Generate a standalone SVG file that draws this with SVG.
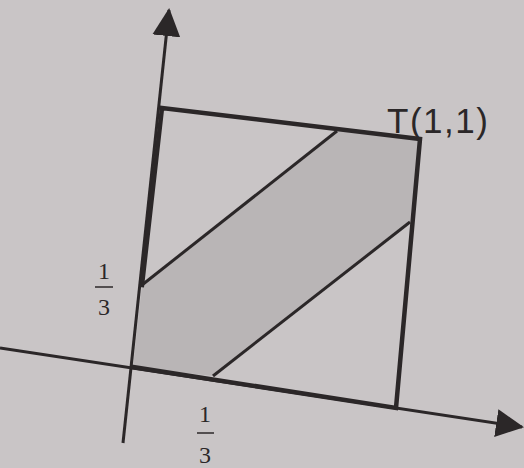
<svg xmlns="http://www.w3.org/2000/svg" width="524" height="468" viewBox="0 0 524 468">
  <style>
    .axis { stroke: #2b2728; stroke-width: 3; fill: none; }
    .edge { stroke: #2b2728; stroke-width: 4.5; fill: none; stroke-linecap: square; }
    .diag { stroke: #2b2728; stroke-width: 3; fill: none; }
    .frac { font-family: "Liberation Serif", "Times New Roman", serif; font-size: 24px; fill: #2b2728; text-anchor: middle; }
    .lab { font-family: "Liberation Sans", Arial, sans-serif; font-size: 35px; letter-spacing: 1.5px; fill: #2b2728; }
  </style>
  <defs>
    <marker id="arrow" viewBox="0 0 28 28" refX="26" refY="14" markerWidth="28" markerHeight="28" markerUnits="userSpaceOnUse" orient="auto">
      <path d="M0,0 L28,14 L0,28 Z" fill="#2b2728"/>
    </marker>
  </defs>
  <rect width="524" height="468" fill="#c9c5c6"/>
  <g id="region">
    <polygon points="133,367 213,376 410,222 420,139 337,131 142,285" fill="#b9b5b6"/>
  </g>
  <g id="axes">
    <line class="axis" x1="123" y1="443" x2="169" y2="10" marker-end="url(#arrow)"/>
    <line class="axis" x1="0" y1="348" x2="522" y2="427" marker-end="url(#arrow)"/>
  </g>
  <g id="square">
    <polyline class="edge" points="133,367 396,408 420,139 162,108 142,285"/>
  </g>
  <g id="diagonals">
    <line class="diag" x1="142" y1="285" x2="337" y2="131"/>
    <line class="diag" x1="213" y1="376" x2="410" y2="222"/>
  </g>
  <g id="labels">
    <text class="lab" x="387" y="133">T(1,1)</text>
    <g id="frac-y">
      <text class="frac" x="104" y="279">1</text>
      <line x1="95" y1="287" x2="113" y2="287" stroke="#2b2728" stroke-width="1.5"/>
      <text class="frac" x="104" y="315">3</text>
    </g>
    <g id="frac-x">
      <text class="frac" x="205" y="422">1</text>
      <line x1="197" y1="433" x2="214" y2="433" stroke="#2b2728" stroke-width="1.5"/>
      <text class="frac" x="205" y="463">3</text>
    </g>
  </g>
</svg>
